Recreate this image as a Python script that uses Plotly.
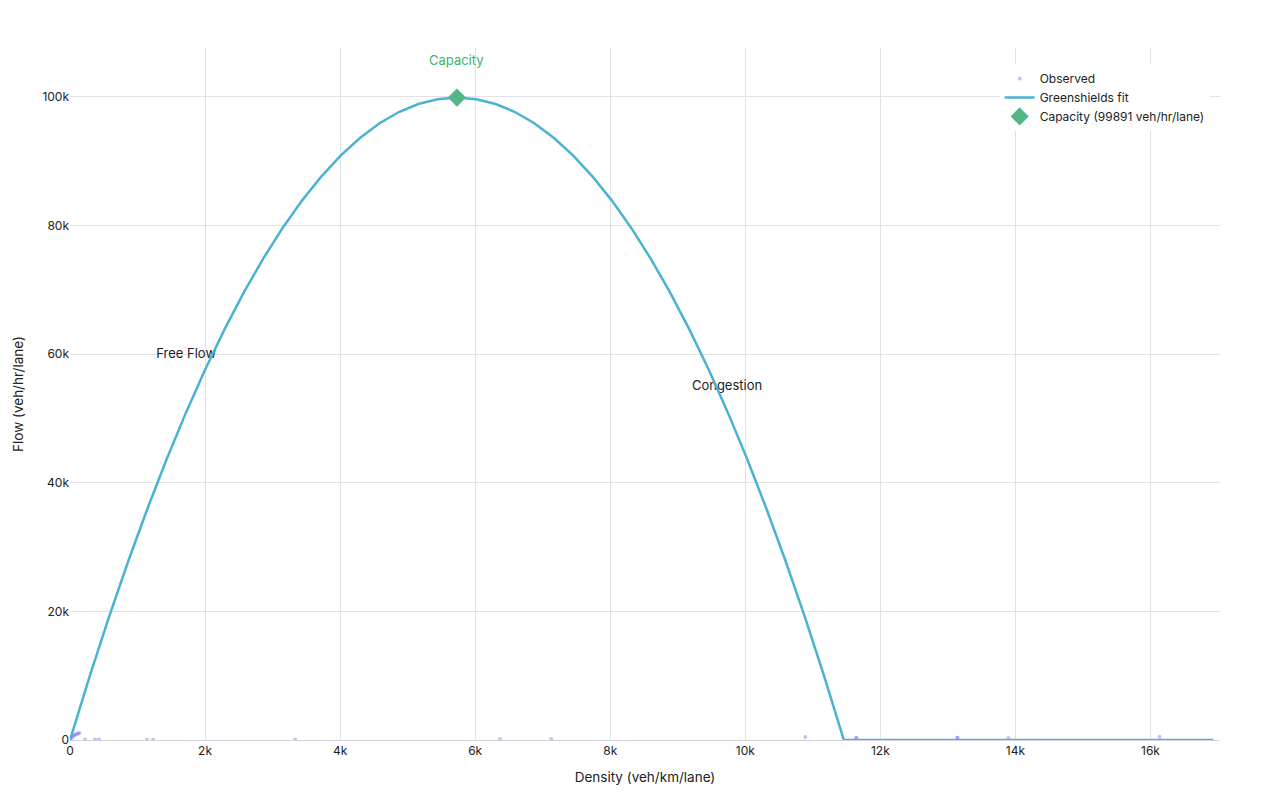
import plotly.graph_objects as go

# Observed points (density, flow)
obs_density = [5, 15, 30, 45, 60, 80, 100, 120, 140, 222, 370, 430, 1140, 1230, 3333,
               6370, 7126, 10889, 11644, 11644, 13141, 13141, 13896, 16133]
obs_flow = [150, 300, 450, 600, 750, 850, 950, 1000, 1100, 80, 80, 60, 50, 50, 80,
            150, 150, 450, 300, 300, 350, 350, 300, 500]

# Greenshields fit curve
fit_density = [0, 286.5, 573, 859.5, 1146, 1432.5, 1719, 2005.5, 2292, 2578.5, 2865,
               3151.5, 3438, 3724.5, 4011, 4297.5, 4584, 4870.5, 5157, 5443.5, 5730,
               6016.5, 6303, 6589.5, 6876, 7162.5, 7449, 7735.5, 8022, 8308.5, 8595,
               8881.5, 9168, 9454.5, 9741, 10027.5, 10314, 10600.5, 10887, 11173.5, 11460,
               11700, 16930]
fit_flow = [0, 9739, 18979, 27720, 35961, 43702, 50944, 57687, 63930, 69674, 74918,
            79663, 83908, 87654, 90901, 93648, 95895, 97643, 98892, 99641, 99891,
            99641, 98892, 97643, 95895, 93648, 90901, 87654, 83908, 79663, 74918,
            69674, 63930, 57687, 50944, 43702, 35961, 27720, 18979, 9739, 0,
            0, 0]

cap_density = [5730]
cap_flow = [99891]

label_text = ["Free Flow", "Congestion"]
label_density = [1720, 9730]
label_flow = [59900, 54900]

FONT = "Inter, Roboto, sans-serif"

fig = go.Figure()

fig.add_trace(go.Scatter(
    x=label_density, y=label_flow, text=label_text, mode="text",
    textfont=dict(family=FONT, size=13, color="#222222"),
    showlegend=False, hoverinfo="skip"))

fig.add_trace(go.Scatter(
    x=obs_density, y=obs_flow, mode="markers", name="Observed",
    marker=dict(color="#8b6cf6", size=4, opacity=0.45)))

fig.add_trace(go.Scatter(
    x=fit_density, y=fit_flow, mode="lines", name="Greenshields fit",
    line=dict(color="#4ab3d2", width=2.5)))

fig.add_trace(go.Scatter(
    x=cap_density, y=cap_flow, mode="markers", name="Capacity (99891 veh/hr/lane)",
    marker=dict(color="#52b788", size=14, symbol="diamond")))

fig.add_annotation(x=5730, y=105800, text="Capacity", showarrow=False,
                   font=dict(family=FONT, size=13, color="#3cb371"))

fig.update_layout(
    width=1280, height=800,
    margin=dict(l=70, r=60, t=48, b=60),
    paper_bgcolor="white", plot_bgcolor="white",
    font=dict(family=FONT, size=12, color="#222222"),
    legend=dict(x=0.991, y=0.977, xanchor="right", yanchor="top",
                bgcolor="rgba(255,255,255,1)", font=dict(size=12)),
    xaxis=dict(title=dict(text="Density (veh/km/lane)", font=dict(size=13.5)),
               range=[0, 17030], showgrid=True, gridcolor="#e2e2e6",
               zeroline=False, showline=True, linecolor="#d4d0e6",
               tickvals=[0, 2000, 4000, 6000, 8000, 10000, 12000, 14000, 16000],
               ticktext=["0", "2k", "4k", "6k", "8k", "10k", "12k", "14k", "16k"]),
    yaxis=dict(title=dict(text="Flow (veh/hr/lane)", font=dict(size=13.5)),
               range=[0, 107600], showgrid=True, gridcolor="#e2e2e6",
               zeroline=False,
               tickvals=[0, 20000, 40000, 60000, 80000, 100000],
               ticktext=["0", "20k", "40k", "60k", "80k", "100k"]),
)

fig.write_html("out.html")
